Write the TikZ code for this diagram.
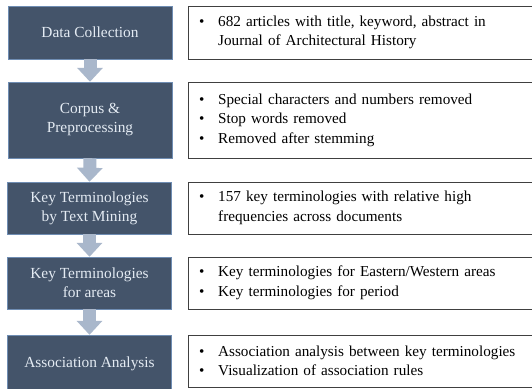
\documentclass[tikz,border=0pt]{standalone}
\usepackage{fontspec}
\setmainfont{Liberation Serif}
\usetikzlibrary{arrows.meta}
\definecolor{stepblue}{HTML}{44546A}
\definecolor{stepedge}{HTML}{6F8DB3}
\definecolor{arrowgray}{HTML}{A9B7CB}
\definecolor{steptext}{HTML}{E4EBF3}
\newcommand{\itemdot}{\makebox[19pt][l]{\textbullet}}
\newcommand{\itemgap}{\hspace*{19pt}}

\begin{document}
\begin{tikzpicture}[x=1pt,y=-1pt,
    stepbox/.style={draw=stepedge, fill=stepblue, text=steptext, minimum width=164pt,
        align=center, inner sep=0pt, font=\fontsize{15.4}{19}\selectfont},
    infobox/.style={draw=black!75, fill=white, anchor=west, text width=340pt,
        inner xsep=11pt, inner ysep=0pt, align=left, font=\fontsize{15.2}{19.5}\selectfont},
    flowarrow/.style={arrowgray, line width=13pt, -{Triangle[width=25pt,length=14pt]}}]

    \useasboundingbox (0,0) rectangle (532,388);
    \fill[white] (0,0) rectangle (532,388);

    %Steps
    \node[stepbox, minimum height=53pt] (dc) at (90,32.5) {Data Collection};
    \node[stepbox, minimum height=76pt] (cp) at (90,120) {Corpus \&\\Preprocessing};
    \node[stepbox, minimum height=52pt] (km) at (89.5,208) {Key Terminologies\\by Text Mining};
    \node[stepbox, minimum height=52pt] (ka) at (89.5,283) {Key Terminologies\\for areas};
    \node[stepbox, minimum height=57pt] (aa) at (89.5,363.5) {Association Analysis};

    %Arrows between steps
    \draw[flowarrow] (dc.south) -- (cp.north);
    \draw[flowarrow] (cp.south) -- (km.north);
    \draw[flowarrow] (km.south) -- (ka.north);
    \draw[flowarrow] (ka.south) -- (aa.north);

    %Details
    \node[infobox, minimum height=53pt] (dcinfo) at (188,32.5)
        {\itemdot 682 articles with title, keyword, abstract in\\\itemgap Journal of Architectural History};
    \node[infobox, minimum height=76pt] (cpinfo) at (188,120)
        {\itemdot Special characters and numbers removed\\\itemdot Stop words removed\\\itemdot Removed after stemming};
    \node[infobox, minimum height=52pt] (kminfo) at (188,208)
        {\itemdot 157 key terminologies with relative high\\\itemgap frequencies across documents};
    \node[infobox, minimum height=52pt] (kainfo) at (188,283)
        {\itemdot Key terminologies for Eastern/Western areas\\\itemdot Key terminologies for period};
    \node[infobox, minimum height=52pt] (aainfo) at (188,361)
        {\itemdot Association analysis between key terminologies\\\itemdot Visualization of association rules};

\end{tikzpicture}
\end{document}
